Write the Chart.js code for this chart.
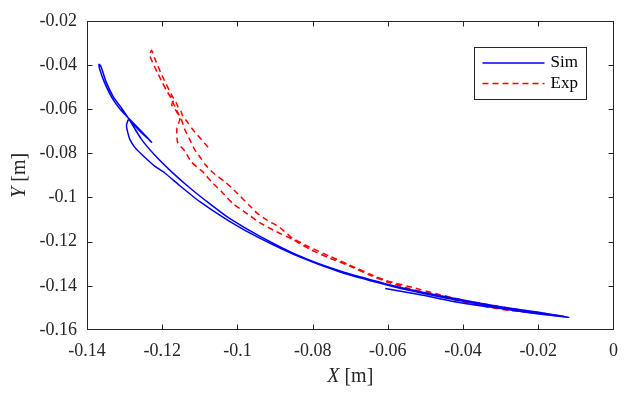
<!DOCTYPE html>
<html><head><meta charset="utf-8">
<script src="https://cdn.jsdelivr.net/npm/chart.js@4.4.1/dist/chart.umd.min.js"></script>
<style>html,body{margin:0;padding:0;background:#fff}#wrap{width:628px;height:393px}</style>
</head><body><div id="wrap"><canvas id="c" width="628" height="393"></canvas></div>
<script>
const seriesNames = ['Sim', 'Exp'];
const xTickLabels = ['-0.14','-0.12','-0.1','-0.08','-0.06','-0.04','-0.02','0'];
const yTickLabels = ['-0.16','-0.14','-0.12','-0.1','-0.08','-0.06','-0.04','-0.02'];
const xTitleParts = ['X', ' [m]'];
const yTitleParts = ['Y', ' [m]'];

const simX = [-0.0607,-0.0517,-0.0411,-0.0305,-0.0199,-0.0119,-0.0199,-0.0305,-0.0411,-0.0517,
  -0.0607,-0.0729,-0.0835,-0.0941,-0.1021,-0.1074,-0.1127,-0.1175,-0.1220,-0.1255,
  -0.1286,-0.1307,-0.1330,-0.1350,-0.1363,-0.1368,-0.1366,-0.1355,-0.1335,-0.1313,
  -0.1291,-0.1260,-0.1228,-0.1260,-0.1289,-0.1295,-0.1291,-0.1286,-0.1273,-0.1255,
  -0.1220,-0.1193,-0.1153,-0.1100,-0.1021,-0.0941,-0.0835,-0.0729,-0.0607,-0.0517,
  -0.0411,-0.0305,-0.0199,-0.0133];
const simY = [-0.1412,-0.1439,-0.1475,-0.1502,-0.1528,-0.1542,-0.1520,-0.1493,-0.1461,-0.1426,
  -0.1390,-0.1332,-0.1265,-0.1175,-0.1095,-0.1028,-0.0956,-0.0884,-0.0808,-0.0737,
  -0.0652,-0.0598,-0.0544,-0.0473,-0.0406,-0.0397,-0.0419,-0.0473,-0.0544,-0.0598,
  -0.0638,-0.0692,-0.0750,-0.0699,-0.0647,-0.0674,-0.0710,-0.0737,-0.0773,-0.0804,
  -0.0858,-0.0889,-0.0947,-0.1019,-0.1108,-0.1184,-0.1269,-0.1336,-0.1394,-0.1430,
  -0.1466,-0.1497,-0.1524,-0.1537];

const expX = [-0.1078,-0.1096,-0.1119,-0.1132,-0.1146,-0.1150,-0.1158,-0.1163,-0.1175,-0.1201,-0.1220,-0.1228,
  -0.1233,-0.1212,-0.1185,-0.1170,-0.1175,-0.1164,-0.1153,-0.1161,-0.1159,-0.1140,-0.1122,-0.1092,
  -0.1069,-0.1042,-0.1013,-0.0981,-0.0941,-0.0896,-0.0854,-0.0809,-0.0756,-0.0703,
  -0.0650,-0.0597,-0.0544,-0.0491,-0.0438,-0.0385,-0.0331,-0.0278,-0.0225,-0.0154,
  -0.0225,-0.0305,-0.0385,-0.0464,-0.0544,-0.0605,-0.0650,-0.0703,-0.0756,-0.0809,
  -0.0854,-0.0888,-0.0920,-0.0947,-0.0968,-0.1008,-0.1034,-0.1066,-0.1085,-0.1096,
  -0.1114,-0.1127,-0.1140,-0.1148,-0.1161,-0.1180,-0.1199];
const expY = [-0.0773,-0.0737,-0.0692,-0.0661,-0.0629,-0.0610,-0.0590,-0.0570,-0.0536,-0.0446,-0.0370,-0.0334,
  -0.0357,-0.0437,-0.0527,-0.0560,-0.0580,-0.0605,-0.0643,-0.0688,-0.0750,-0.0790,-0.0840,-0.0884,
  -0.0929,-0.0974,-0.1027,-0.1065,-0.1114,-0.1155,-0.1189,-0.1233,-0.1274,-0.1309,
  -0.1350,-0.1385,-0.1412,-0.1435,-0.1457,-0.1479,-0.1497,-0.1511,-0.1520,-0.1533,
  -0.1515,-0.1493,-0.1470,-0.1439,-0.1403,-0.1376,-0.1345,-0.1305,-0.1265,-0.1224,
  -0.1184,-0.1135,-0.1104,-0.1072,-0.1036,-0.0968,-0.0928,-0.0886,-0.0852,-0.0825,
  -0.0782,-0.0737,-0.0692,-0.0652,-0.0607,-0.0540,-0.0482];

const FONT = '"Liberation Serif", "Times New Roman", serif';
const AXC = '#262626';

const toPts = (xs, ys) => xs.map((x, i) => ({x: x, y: ys[i]}));

const decorPlugin = {
  id: 'decor',
  afterDraw(chart) {
    const ctx = chart.ctx, a = chart.chartArea;
    const L = Math.round(a.left) + 0.5, R = Math.round(a.right) - 0.5;
    const T = Math.round(a.top) + 0.5, B = Math.round(a.bottom) - 0.5;
    ctx.save();
    ctx.strokeStyle = AXC; ctx.lineWidth = 1;
    ctx.strokeRect(L, T, R - L, B - T);
    const tl = 5;
    ctx.beginPath();
    chart.scales.x.ticks.forEach(t => {
      const px = Math.round(chart.scales.x.getPixelForValue(t.value)) + 0.5;
      if (px > L + 1 && px < R - 1) {
        ctx.moveTo(px, B); ctx.lineTo(px, B - tl);
        ctx.moveTo(px, T); ctx.lineTo(px, T + tl);
      }
    });
    chart.scales.y.ticks.forEach(t => {
      const py = Math.round(chart.scales.y.getPixelForValue(t.value)) + 0.5;
      if (py > T + 1 && py < B - 1) {
        ctx.moveTo(L, py); ctx.lineTo(L + tl, py);
        ctx.moveTo(R, py); ctx.lineTo(R - tl, py);
      }
    });
    ctx.stroke();

    const tsize = 20;
    const drawTitle = (parts, cx, cy, rot) => {
      ctx.save();
      ctx.translate(cx, cy);
      if (rot) ctx.rotate(-Math.PI / 2);
      ctx.fillStyle = AXC;
      ctx.textBaseline = 'middle';
      ctx.textAlign = 'left';
      const f1 = 'italic ' + tsize + 'px ' + FONT, f2 = tsize + 'px ' + FONT;
      ctx.font = f1; const w1 = ctx.measureText(parts[0]).width;
      ctx.font = f2; const w2 = ctx.measureText(parts[1]).width;
      let x0 = -(w1 + w2) / 2;
      ctx.font = f1; ctx.fillText(parts[0], x0, 0);
      ctx.font = f2; ctx.fillText(parts[1], x0 + w1, 0);
      ctx.restore();
    };
    drawTitle(xTitleParts, (a.left + a.right) / 2, 377, false);
    drawTitle(yTitleParts, 20, (a.top + a.bottom) / 2, true);

    const bx = Math.round(a.right) - 140 + 0.5, by = Math.round(a.top) + 26.5;
    const bw = 112, bh = 52;
    ctx.fillStyle = '#fff';
    ctx.fillRect(bx, by, bw, bh);
    ctx.strokeStyle = AXC; ctx.lineWidth = 1;
    ctx.strokeRect(bx, by, bw, bh);
    chart.data.datasets.forEach((ds, i) => {
      const ly = by + 15.5 + i * 20.5;
      ctx.save();
      ctx.strokeStyle = ds.borderColor; ctx.lineWidth = ds.borderWidth;
      ctx.setLineDash(ds.borderDash || []);
      ctx.beginPath(); ctx.moveTo(bx + 8, ly); ctx.lineTo(bx + 70, ly); ctx.stroke();
      ctx.restore();
      ctx.fillStyle = '#000';
      ctx.font = '17px ' + FONT;
      ctx.textBaseline = 'middle'; ctx.textAlign = 'left';
      ctx.fillText(ds.label, bx + 76, ly);
    });
    ctx.restore();
  }
};

const xTickVals = xTickLabels.map(Number);
const yTickVals = yTickLabels.map(Number);

new Chart(document.getElementById('c'), {
  type: 'scatter',
  data: {
    datasets: [
      { label: seriesNames[0], data: toPts(simX, simY), showLine: true, borderColor: '#0000FF',
        backgroundColor: '#0000FF', borderWidth: 1.5, pointRadius: 0, tension: 0.2, fill: false },
      { label: seriesNames[1], data: toPts(expX, expY), showLine: true, borderColor: '#FF0000',
        backgroundColor: '#FF0000', borderWidth: 1.5, borderDash: [6, 4], pointRadius: 0, tension: 0.2, fill: false }
    ]
  },
  options: {
    responsive: false,
    animation: false,
    devicePixelRatio: 1,
    layout: { padding: { top: 17, right: 13, left: 0, bottom: 0 } },
    plugins: { legend: { display: false }, tooltip: { enabled: false } },
    scales: {
      x: {
        type: 'linear', min: -0.14, max: 0,
        grid: { display: false, drawTicks: false }, border: { display: false },
        afterBuildTicks: s => { s.ticks = xTickVals.map(v => ({ value: v })); },
        afterFit: s => { s.height = 63; },
        ticks: { autoSkip: false, maxRotation: 0, padding: 10, color: AXC,
          font: { family: FONT, size: 18 }, callback: (v, i) => xTickLabels[i] }
      },
      y: {
        type: 'linear', min: -0.16, max: -0.02,
        grid: { display: false, drawTicks: false }, border: { display: false },
        afterBuildTicks: s => { s.ticks = yTickVals.map(v => ({ value: v })); },
        afterFit: s => { s.width = 87; },
        ticks: { autoSkip: false, padding: 10, color: AXC,
          font: { family: FONT, size: 18 }, callback: (v, i) => yTickLabels[i] }
      }
    }
  },
  plugins: [decorPlugin]
});
</script></body></html>
